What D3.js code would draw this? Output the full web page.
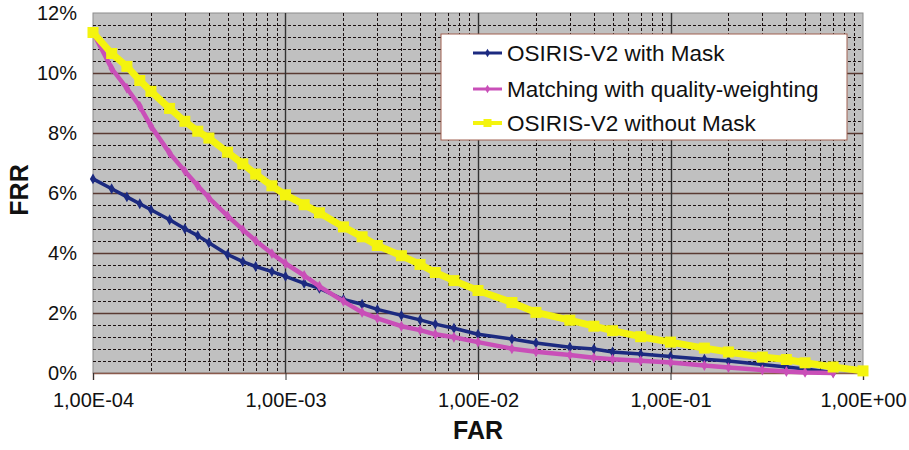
<!DOCTYPE html>
<html>
<head>
<meta charset="utf-8">
<script src="https://cdn.jsdelivr.net/npm/d3@7"></script>
<style>
    body { margin: 0; background: #fff; }
    svg text { font-family: "Liberation Sans", Arial, sans-serif; fill: #111; }
</style>
</head>
<body>
<div id="chart"></div>
<script>
// FRR vs FAR, log x axis
var farPoints = [1e-4, 1.25e-4, 1.5e-4, 1.75e-4, 2e-4, 2.5e-4, 3e-4, 3.5e-4, 4e-4, 5e-4, 6e-4, 7e-4, 8.5e-4,
    1e-3, 1.25e-3, 1.5e-3, 2e-3, 2.5e-3, 3e-3, 4e-3, 5e-3, 6e-3, 7.5e-3,
    1e-2, 1.5e-2, 2e-2, 3e-2, 4e-2, 5e-2, 7e-2,
    1e-1, 1.5e-1, 2e-1, 3e-1, 4e-1, 5e-1, 7e-1, 1];

var frrWithMask = [6.47, 6.14, 5.87, 5.64, 5.44, 5.11, 4.81, 4.58, 4.34, 3.95, 3.71, 3.55, 3.38,
    3.22, 2.99, 2.82, 2.45, 2.29, 2.12, 1.92, 1.77, 1.63, 1.49,
    1.29, 1.13, 1.00, 0.86, 0.80, 0.70, 0.63,
    0.55, 0.46, 0.40, 0.28, 0.20, 0.13, 0.02, null];

var frrQuality = [11.35, 10.15, 9.49, 8.89, 8.23, 7.33, 6.73, 6.24, 5.84, 5.24, 4.78, 4.41, 3.98,
    3.65, 3.25, 2.89, 2.39, 2.02, 1.82, 1.56, 1.43, 1.29, 1.19,
    1.03, 0.81, 0.71, 0.60, 0.51, 0.46, 0.41,
    0.35, 0.25, 0.18, 0.10, 0.05, 0.02, 0.0, null];

var frrNoMask = [11.35, 10.65, 10.22, 9.75, 9.39, 8.82, 8.39, 8.06, 7.83, 7.36, 6.97, 6.63, 6.24,
    5.94, 5.61, 5.34, 4.87, 4.54, 4.25, 3.91, 3.62, 3.35, 3.08,
    2.75, 2.35, 2.02, 1.76, 1.56, 1.41, 1.21,
    1.03, 0.83, 0.70, 0.53, 0.45, 0.34, 0.20, 0.07];

var seriesNames = ["OSIRIS-V2 with Mask", "Matching with quality-weighting", "OSIRIS-V2 without Mask"];
var seriesColors = ["#1c2a80", "#c94fb8", "#f4f40e"];
var xTicks = [1e-4, 1e-3, 1e-2, 1e-1, 1];
var xTickLabels = ["1,00E-04", "1,00E-03", "1,00E-02", "1,00E-01", "1,00E+00"];
var yTicks = [0, 2, 4, 6, 8, 10, 12];

var width = 909, height = 450;
var margin = { top: 13, left: 93, bottom: 77, right: 46 };

var svg = d3.select("#chart").append("svg")
    .attr("width", width)
    .attr("height", height);

var x = d3.scaleLog().domain([1e-4, 1]).range([margin.left, width - margin.right]);
var y = d3.scaleLinear().domain([0, 12]).range([height - margin.bottom, margin.top]);

// plot background
svg.append("rect")
    .attr("x", x(1e-4)).attr("y", y(12))
    .attr("width", x(1) - x(1e-4)).attr("height", y(0) - y(12))
    .attr("fill", "#c0c0c0")
    .attr("stroke", "#8c8c8c");

// minor grid
var minorX = [];
[1e-4, 1e-3, 1e-2, 1e-1].forEach(function(dec) {
    for (var k = 2; k < 10; k++) minorX.push(dec * k);
});
var minorY = d3.range(0, 60).map(function(i) { return i * 0.4 }).filter(function(v) {
    return Math.abs(v / 2 - Math.round(v / 2)) > 0.01 && v < 12
});

svg.append("g").selectAll("line").data(minorX).enter().append("line")
    .attr("x1", function(d) { return Math.round(x(d)) + 0.5 })
    .attr("x2", function(d) { return Math.round(x(d)) + 0.5 })
    .attr("y1", y(12)).attr("y2", y(0))
    .attr("stroke", "#1a1010").attr("stroke-width", 1)
    .attr("stroke-dasharray", "3,2");

svg.append("g").selectAll("line").data(minorY).enter().append("line")
    .attr("x1", x(1e-4)).attr("x2", x(1))
    .attr("y1", function(d) { return Math.round(y(d)) + 0.5 })
    .attr("y2", function(d) { return Math.round(y(d)) + 0.5 })
    .attr("stroke", "#1a1010").attr("stroke-width", 1)
    .attr("stroke-dasharray", "3,2");

// major grid
svg.append("g").selectAll("line").data(yTicks.slice(1, 6)).enter().append("line")
    .attr("x1", x(1e-4)).attr("x2", x(1))
    .attr("y1", function(d) { return Math.round(y(d)) + 0.5 })
    .attr("y2", function(d) { return Math.round(y(d)) + 0.5 })
    .attr("stroke", "#5a3a32").attr("stroke-width", 1.4);

svg.append("g").selectAll("line").data(xTicks.slice(1, 4)).enter().append("line")
    .attr("x1", function(d) { return Math.round(x(d)) + 0.5 })
    .attr("x2", function(d) { return Math.round(x(d)) + 0.5 })
    .attr("y1", y(12)).attr("y2", y(0))
    .attr("stroke", "#333").attr("stroke-width", 1.4);

// axes
var xAxis = d3.axisBottom(x)
    .tickValues(xTicks)
    .tickSize(7)
    .tickPadding(13)
    .tickFormat(function(d, i) { return xTickLabels[i] });

var gx = svg.append("g")
    .attr("transform", "translate(0," + y(0) + ")")
    .call(xAxis);
gx.select(".domain").attr("stroke", "#8a5a4c").attr("stroke-width", 1.5);
gx.selectAll(".tick line").attr("stroke", "#333");
gx.selectAll("text").style("font-size", "20px").attr("fill", "#111");

var yAxis = d3.axisLeft(y)
    .tickValues(yTicks)
    .tickSize(0)
    .tickPadding(16)
    .tickFormat(function(d) { return d + "%" });

var gy = svg.append("g")
    .attr("transform", "translate(" + x(1e-4) + ",0)")
    .call(yAxis);
gy.select(".domain").remove();
gy.selectAll("text").style("font-size", "20px").attr("fill", "#111");

// series
var series = [frrWithMask, frrQuality, frrNoMask].map(function(vals, i) {
    return {
        name: seriesNames[i],
        color: seriesColors[i],
        points: farPoints.map(function(f, j) { return { far: f, frr: vals[j] } })
            .filter(function(p) { return p.frr !== null })
    }
});

var line = d3.line()
    .x(function(d) { return x(d.far) })
    .y(function(d) { return y(d.frr) });

var lineWidths = [3.5, 4.5, 7];

series.forEach(function(s, i) {
    var g = svg.append("g");
    g.append("path")
        .datum(s.points)
        .attr("d", line)
        .attr("fill", "none")
        .attr("stroke", s.color)
        .attr("stroke-width", lineWidths[i])
        .attr("stroke-linejoin", "round");

    if (i == 2) {
        g.selectAll("rect").data(s.points).enter().append("rect")
            .attr("x", function(d) { return x(d.far) - 5.5 })
            .attr("y", function(d) { return y(d.frr) - 5.5 })
            .attr("width", 11).attr("height", 11)
            .attr("fill", s.color);
    } else {
        g.selectAll("path.mk").data(s.points).enter().append("path")
            .attr("class", "mk")
            .attr("d", d3.symbol().type(d3.symbolDiamond).size(34))
            .attr("transform", function(d) { return "translate(" + x(d.far) + "," + y(d.frr) + ")" })
            .attr("fill", s.color);
    }
});

// legend
var legend = svg.append("g").attr("transform", "translate(441,34)");
legend.append("rect")
    .attr("width", 406).attr("height", 106)
    .attr("fill", "#fff")
    .attr("stroke", "#a06050").attr("stroke-width", 1);

var rowY = [19, 55, 89];
series.forEach(function(s, i) {
    var row = legend.append("g").attr("transform", "translate(0," + rowY[i] + ")");
    row.append("line")
        .attr("x1", 32).attr("x2", 61)
        .attr("stroke", s.color).attr("stroke-width", i == 2 ? 4 : 3);
    if (i == 2) {
        row.append("rect").attr("x", 42.5).attr("y", -4).attr("width", 8).attr("height", 8).attr("fill", s.color);
    } else {
        row.append("path").attr("d", d3.symbol().type(d3.symbolDiamond).size(22))
            .attr("transform", "translate(46.5,0)").attr("fill", s.color);
    }
    row.append("text")
        .attr("x", 66).attr("y", 0)
        .attr("dominant-baseline", "central")
        .style("font-size", "22.5px")
        .text(s.name);
});

// axis titles
svg.append("text")
    .attr("x", x(1e-2)).attr("y", 439)
    .attr("text-anchor", "middle")
    .style("font-size", "25px").style("font-weight", "bold")
    .text("FAR");

svg.append("text")
    .attr("transform", "translate(28," + 190 + ") rotate(-90)")
    .attr("text-anchor", "middle")
    .style("font-size", "25px").style("font-weight", "bold")
    .text("FRR");
</script>
</body>
</html>
